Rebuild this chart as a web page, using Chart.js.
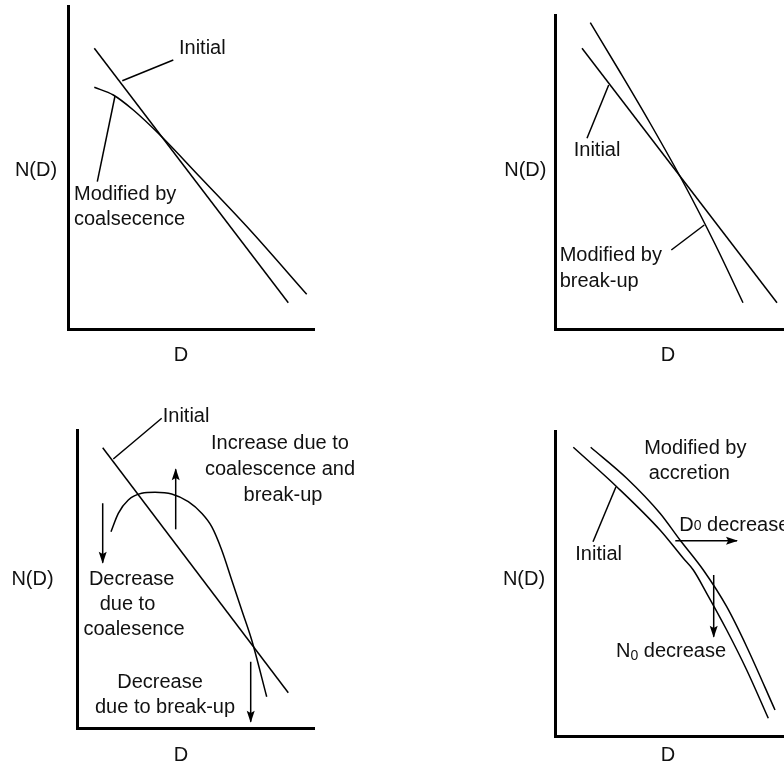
<!DOCTYPE html>
<html>
<head>
<meta charset="utf-8">
<title>N(D) modification sketches</title>
<script src="https://cdn.jsdelivr.net/npm/chart.js@4.4.1/dist/chart.umd.min.js"></script>
<style>
    html, body { margin: 0; padding: 0; background: #fff; }
    #wrap { position: relative; width: 784px; height: 765px; overflow: hidden; }
    #wrap canvas { position: absolute; }
</style>
</head>
<body>
<div id="wrap">
    <canvas id="coalChart" width="392" height="382" style="left:0;top:0"></canvas>
    <canvas id="breakChart" width="392" height="382" style="left:392px;top:0"></canvas>
    <canvas id="bothChart" width="392" height="383" style="left:0;top:382px"></canvas>
    <canvas id="accrChart" width="392" height="383" style="left:392px;top:382px"></canvas>
</div>
<script>
// Units: D to the right of the N(D) axis, N(D) above the D axis (schematic, no ticks)

// Panel 1 - coalescence
const coalInitial = [[26.3, 280.7], [220.3, 26.3]];
const coalModified = [[26.3, 241.7], [45.3, 234], [65.3, 219], [92, 194], [132, 152], [182, 99], [238.7, 34.7]];
const coalInitialLeader = [[105.3, 269], [54.3, 248.3]];
const coalModifiedLeader = [[29.3, 147.3], [47, 233]];

// Panel 2 - break-up
const breakInitial = [[27, 280.7], [222, 26.3]];
const breakModified = [[35.3, 306.3], [65, 257], [95, 206], [129.7, 144], [160, 85], [188, 26.3]];
const breakInitialLeader = [[32, 190.7], [53.7, 244]];
const breakModifiedLeader = [[116.3, 79], [149.3, 104]];

// Panel 3 - coalescence and break-up together
const bothInitial = [[25.7, 280.3], [211.3, 35.3]];
const bothModified = [[34, 196.3], [41.3, 214.7], [51.3, 228], [64.7, 234.7], [78, 235.7], [94.7, 234],
    [111.3, 226.3], [124.7, 214.7], [134.7, 201.3], [144.7, 178], [154.7, 148], [164.7, 118], [174.7, 88], [189.7, 31.3]];
const bothInitialLeader = [[36.3, 269], [84.7, 309.7]];
const bothArrowCoal = [[25.7, 224.7], [25.7, 165.3]];
const bothArrowUp = [[98.7, 198.7], [98.7, 258.7]];
const bothArrowBreak = [[173.7, 66.3], [173.7, 6.3]];

// Panel 4 - accretion
const accrInitial = [[18.3, 288.7], [61.7, 249.3], [105, 206], [128.3, 177.7], [138.3, 166], [151.7, 142.7],
    [171.7, 106], [191.7, 66], [213.3, 17.7]];
const accrModified = [[35.7, 288.7], [71.7, 257.7], [105, 222.7], [125, 196], [148.3, 166], [171.7, 129.3],
    [191.7, 89.3], [220, 26]];
const accrInitialLeader = [[38, 194.3], [61, 249.3]];
const accrArrowD0 = [[120.3, 195.3], [182, 195.3]];
const accrArrowN0 = [[158.7, 161], [158.7, 99.3]];

const FONT = '"Liberation Sans", Arial, Helvetica, sans-serif';

function pts(arr) {
    return arr.map(([x, y]) => ({ x: x, y: y }));
}

function line(arr, opts) {
    return Object.assign({
        data: pts(arr),
        showLine: true,
        borderColor: '#000',
        borderWidth: 1.5,
        pointRadius: 0,
        fill: false,
        tension: 0,
        clip: false
    }, opts || {});
}

// smooth sketched curve
function curve(arr) {
    return line(arr, { cubicInterpolationMode: 'monotone' });
}

// filled arrow heads at the last point of datasets flagged with arrow: true
const arrowHeads = {
    id: 'arrowHeads',
    afterDatasetsDraw(chart) {
        const ctx = chart.ctx;
        chart.data.datasets.forEach((ds, i) => {
            if (!ds.arrow) return;
            const pts = chart.getDatasetMeta(i).data;
            const a = pts[pts.length - 2], b = pts[pts.length - 1];
            const ang = Math.atan2(b.y - a.y, b.x - a.x);
            const c = Math.cos(ang), s = Math.sin(ang);
            const len = 11, half = 4;
            ctx.save();
            ctx.fillStyle = '#000';
            ctx.beginPath();
            ctx.moveTo(b.x + c, b.y + s);
            ctx.lineTo(b.x - len * c + half * s, b.y - len * s - half * c);
            ctx.lineTo(b.x - len * c * 0.8, b.y - len * s * 0.8);
            ctx.lineTo(b.x - len * c - half * s, b.y - len * s + half * c);
            ctx.closePath();
            ctx.fill();
            ctx.restore();
        });
    }
};

// labels placed in data units
const sketchLabels = {
    id: 'sketchLabels',
    afterDraw(chart, args, opts) {
        const ctx = chart.ctx;
        const xs = chart.scales.x, ys = chart.scales.y;
        ctx.save();
        ctx.fillStyle = '#111';
        ctx.textBaseline = 'middle';
        (opts.items || []).forEach(it => {
            const px = xs.getPixelForValue(it.x);
            const py = ys.getPixelForValue(it.y);
            ctx.font = '20px ' + FONT;
            if (it.sub) {
                const w1 = ctx.measureText(it.text).width;
                ctx.textAlign = 'left';
                ctx.fillText(it.text, px, py);
                ctx.font = '14px ' + FONT;
                const w2 = ctx.measureText(it.sub).width;
                ctx.fillText(it.sub, px + w1, py + it.subDrop);
                ctx.font = '20px ' + FONT;
                ctx.fillText(it.rest, px + w1 + w2, py);
            } else {
                ctx.textAlign = it.align || 'left';
                ctx.fillText(it.text, px, py);
            }
        });
        ctx.restore();
    }
};

function makeChart(id, geom, datasets, labels) {
    const [bx, by, bw, bh] = geom.box;
    const [ox, oy] = geom.origin;
    const axis = {
        type: 'linear',
        grid: { display: false, drawTicks: false },
        ticks: { display: false },
        border: { display: true, color: '#000', width: 3 }
    };
    return new Chart(document.getElementById(id), {
        type: 'scatter',
        data: { datasets: datasets },
        options: {
            responsive: false,
            animation: false,
            events: [],
            layout: {
                padding: {
                    left: ox - bx,
                    top: geom.top - by,
                    right: bx + bw - geom.right,
                    bottom: by + bh - oy
                }
            },
            scales: {
                x: Object.assign({}, axis, { min: 0, max: geom.right - ox }),
                y: Object.assign({}, axis, { min: 0, max: oy - geom.top })
            },
            plugins: {
                legend: { display: false },
                tooltip: { enabled: false },
                sketchLabels: { items: labels }
            }
        },
        plugins: [arrowHeads, sketchLabels]
    });
}

document.addEventListener('DOMContentLoaded', function() {
    makeChart('coalChart',
        { box: [0, 0, 392, 382], origin: [68, 329], top: 6, right: 314 },
        [
            line(coalInitial),
            curve(coalModified),
            line(coalInitialLeader),
            line(coalModifiedLeader)
        ],
        [
            { text: 'Initial', x: 111, y: 281 },
            { text: 'Modified by', x: 6, y: 134.7 },
            { text: 'coalsecence', x: 6, y: 109.7 },
            { text: 'N(D)', x: -32, y: 158.3, align: 'center' },
            { text: 'D', x: 113, y: -26.7, align: 'center' }
        ]);

    makeChart('breakChart',
        { box: [392, 0, 392, 382], origin: [555, 329], top: 15, right: 784 },
        [
            line(breakInitial),
            curve(breakModified),
            line(breakInitialLeader),
            line(breakModifiedLeader)
        ],
        [
            { text: 'Initial', x: 18.7, y: 179 },
            { text: 'Modified by', x: 4.7, y: 73.3 },
            { text: 'break-up', x: 4.7, y: 48 },
            { text: 'N(D)', x: -29.7, y: 159, align: 'center' },
            { text: 'D', x: 113, y: -26.7, align: 'center' }
        ]);

    makeChart('bothChart',
        { box: [0, 382, 392, 383], origin: [77, 728], top: 430, right: 314 },
        [
            line(bothInitial),
            curve(bothModified),
            line(bothInitialLeader),
            line(bothArrowCoal, { arrow: true }),
            line(bothArrowUp, { arrow: true }),
            line(bothArrowBreak, { arrow: true })
        ],
        [
            { text: 'Initial', x: 85.7, y: 311.3 },
            { text: 'Increase due to', x: 203, y: 284.7, align: 'center' },
            { text: 'coalescence and', x: 203, y: 258.7, align: 'center' },
            { text: 'break-up', x: 206, y: 233, align: 'center' },
            { text: 'Decrease', x: 54.7, y: 148.7, align: 'center' },
            { text: 'due to', x: 50.5, y: 123.7, align: 'center' },
            { text: 'coalesence', x: 57, y: 98.7, align: 'center' },
            { text: 'Decrease', x: 83, y: 45.7, align: 'center' },
            { text: 'due to break-up', x: 88, y: 20.3, align: 'center' },
            { text: 'N(D)', x: -44.5, y: 148.7, align: 'center' },
            { text: 'D', x: 104, y: -27.7, align: 'center' }
        ]);

    makeChart('accrChart',
        { box: [392, 382, 392, 383], origin: [555, 736], top: 431, right: 784 },
        [
            curve(accrInitial),
            curve(accrModified),
            line(accrInitialLeader),
            line(accrArrowD0, { arrow: true }),
            line(accrArrowN0, { arrow: true })
        ],
        [
            { text: 'Modified by', x: 140.3, y: 287.7, align: 'center' },
            { text: 'accretion', x: 134.3, y: 262.7, align: 'center' },
            { text: 'D', sub: '0', rest: ' decrease', subDrop: 1, x: 124.3, y: 211 },
            { text: 'N', sub: '0', rest: ' decrease', subDrop: 4, x: 61, y: 84.3 },
            { text: 'Initial', x: 20.3, y: 182 },
            { text: 'N(D)', x: -31, y: 157, align: 'center' },
            { text: 'D', x: 113, y: -19.7, align: 'center' }
        ]);
});
</script>
</body>
</html>
